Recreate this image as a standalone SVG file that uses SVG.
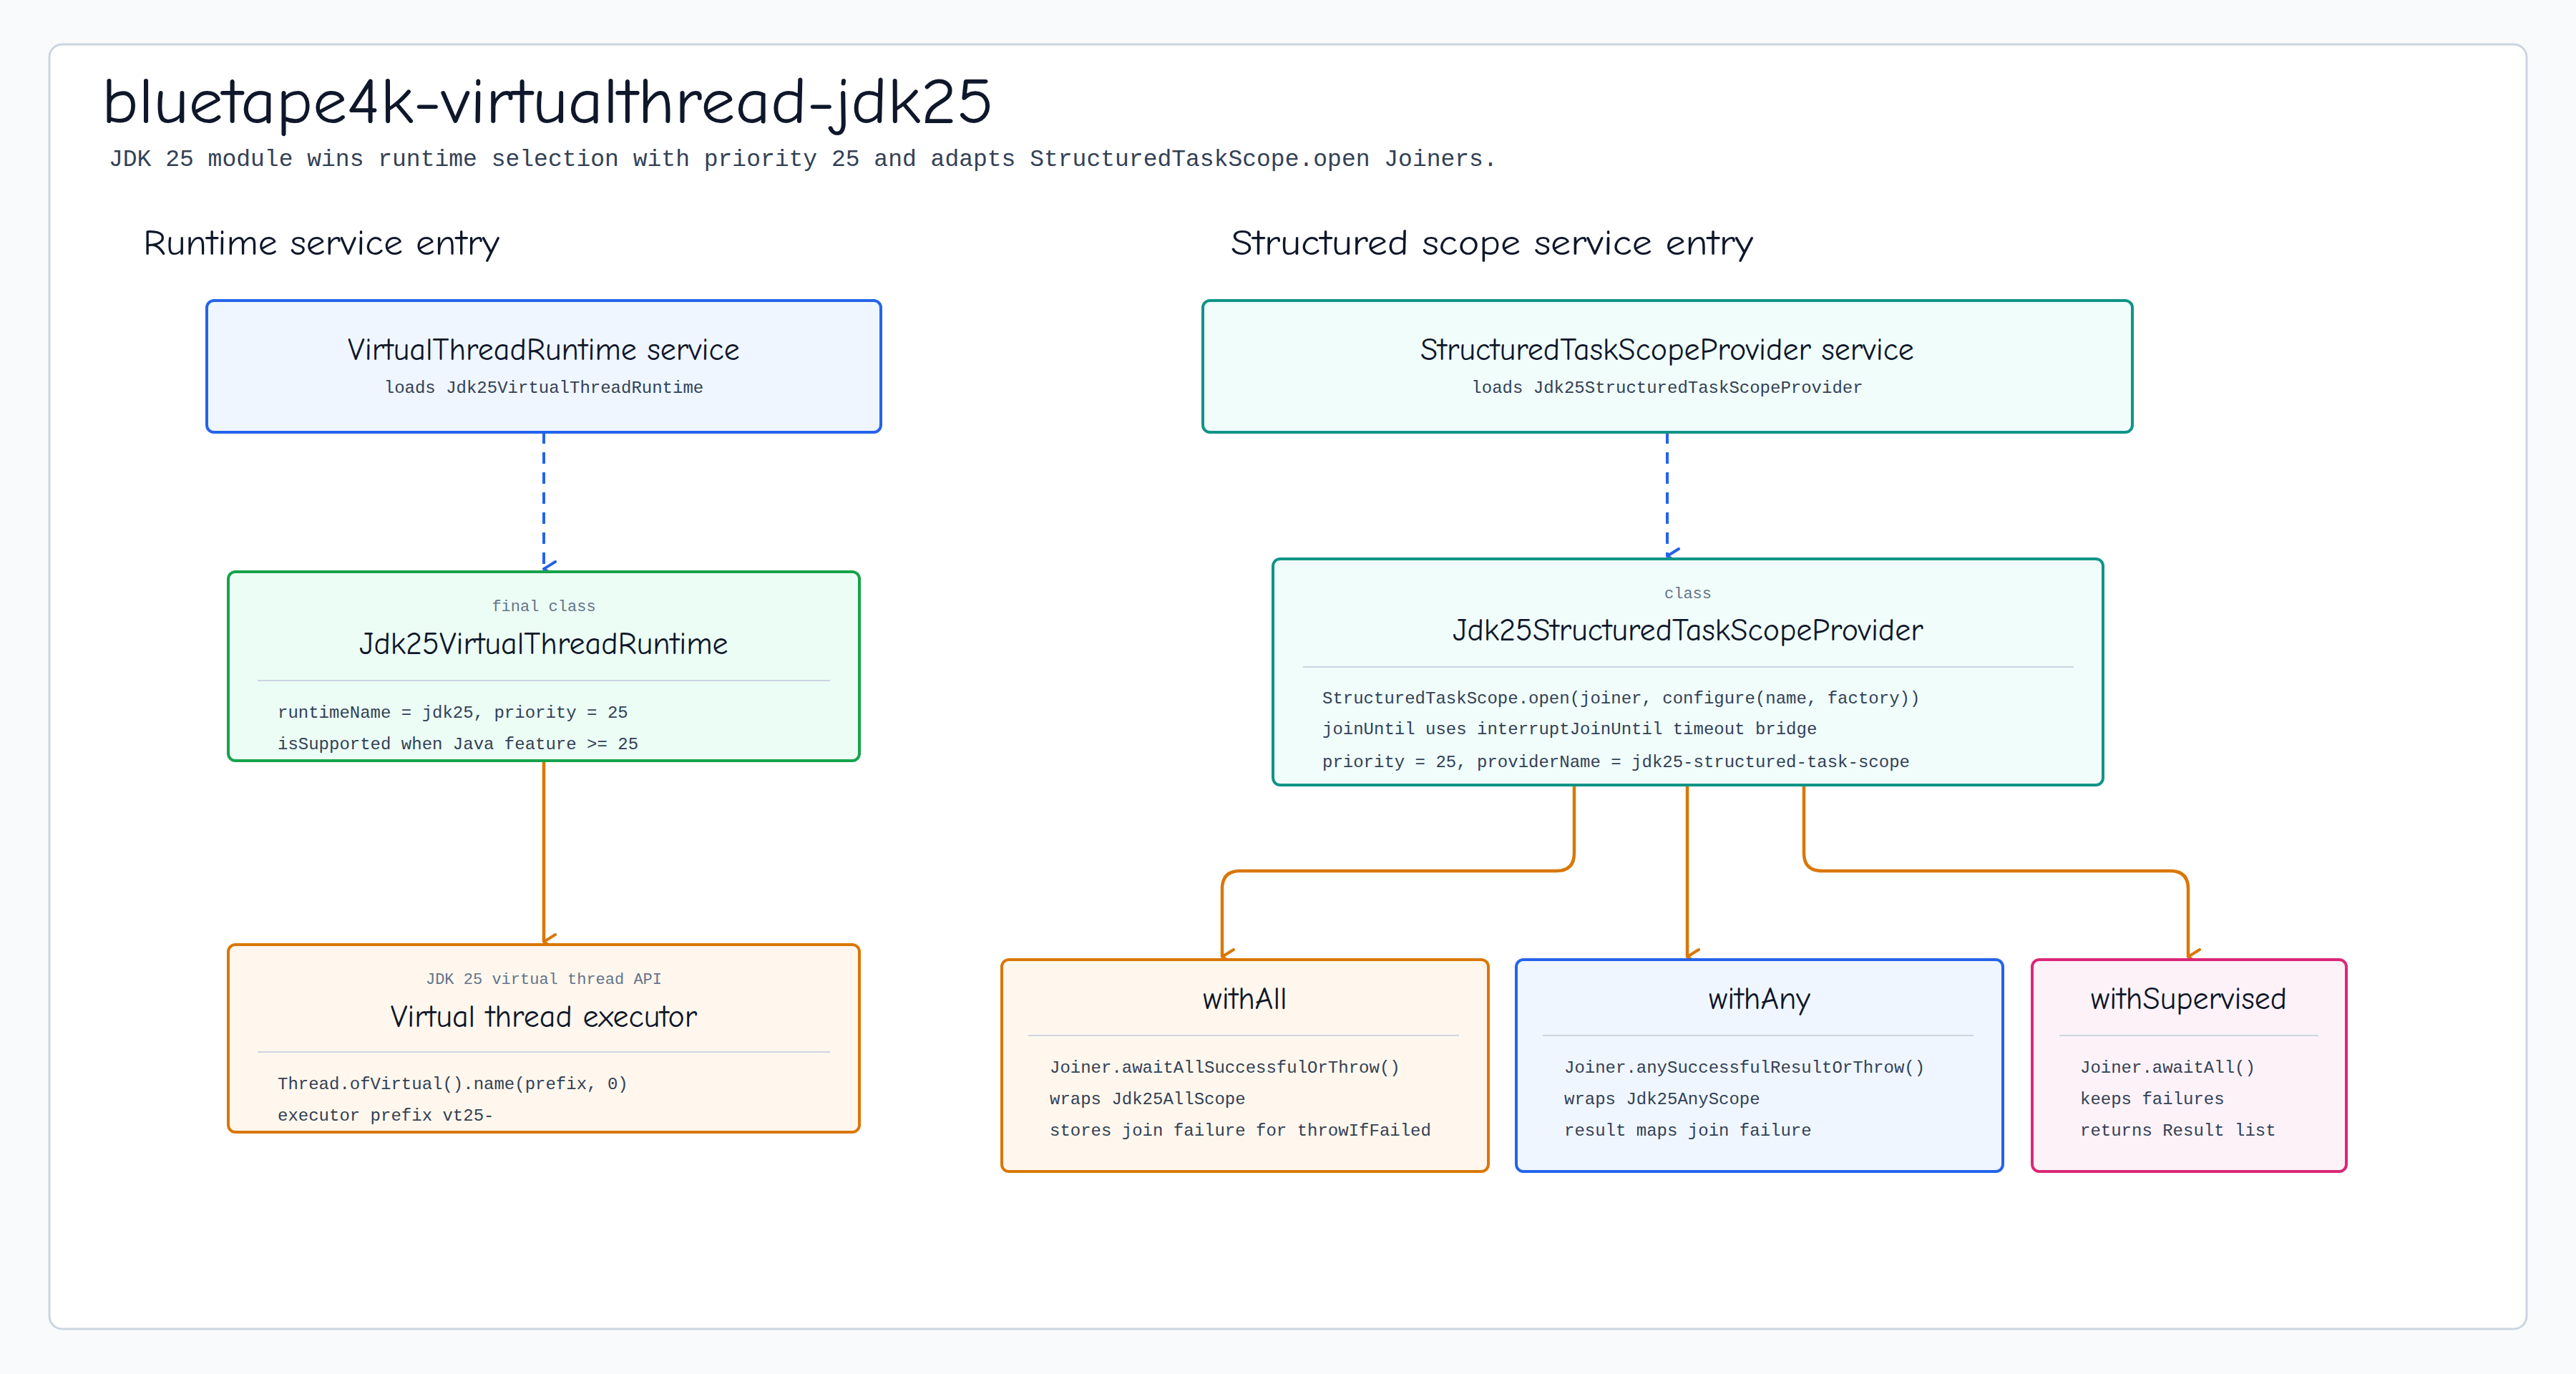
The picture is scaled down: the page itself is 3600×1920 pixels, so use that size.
<svg xmlns="http://www.w3.org/2000/svg" width="3600" height="1920" viewBox="0 0 3600 1920">
<defs>
<marker id="ab" markerWidth="24" markerHeight="24" refX="12" refY="20" orient="auto-start-reverse" markerUnits="userSpaceOnUse" viewBox="0 0 24 24"><path d="M2,4 L12,20 L22,4" fill="none" stroke="#2563eb" stroke-width="4" stroke-linecap="round" stroke-linejoin="round"/></marker>
<marker id="ao" markerWidth="24" markerHeight="24" refX="12" refY="20" orient="auto-start-reverse" markerUnits="userSpaceOnUse" viewBox="0 0 24 24"><path d="M2,4 L12,20 L22,4" fill="none" stroke="#d97706" stroke-width="4" stroke-linecap="round" stroke-linejoin="round"/></marker>
</defs>
<style>
.hand{font-family:"Comic Neue","Lato","Liberation Sans",sans-serif;fill:#0f172a}
.mono{font-family:"Liberation Mono","DejaVu Sans Mono",monospace;fill:#334155}
.lbl{font-family:"Liberation Mono","DejaVu Sans Mono",monospace;fill:#64748b;font-size:22px}
.ttl{font-size:44px;text-anchor:middle}
.ln{font-size:24px}
.div{stroke:#cbd5e1;stroke-width:2}
.dash{fill:none;stroke:#2563eb;stroke-width:4;stroke-dasharray:16 12}
.sol{fill:none;stroke:#d97706;stroke-width:4.5}
</style>
<rect width="3600" height="1920" fill="#f8fafc"/>
<rect x="69" y="62" width="3462" height="1795" rx="18" fill="#ffffff" stroke="#cbd5e1" stroke-width="3"/>
<text class="hand" x="142" y="172" font-size="90" textLength="1247" lengthAdjust="spacingAndGlyphs">bluetape4k-virtualthread-jdk25</text>
<text class="mono" x="152" y="232" font-size="33">JDK 25 module wins runtime selection with priority 25 and adapts StructuredTaskScope.open Joiners.</text>
<text class="hand" x="200" y="356" font-size="50" fill="#1e293b" textLength="498" lengthAdjust="spacingAndGlyphs">Runtime service entry</text>
<text class="hand" x="1720" y="356" font-size="50" fill="#1e293b" textLength="730" lengthAdjust="spacingAndGlyphs">Structured scope service entry</text>

<g id="connectors">
<path class="dash" d="M760,604 V795" marker-end="url(#ab)"/>
<path class="dash" d="M2330,604 V777" marker-end="url(#ab)"/>
<path class="sol" d="M760,1063 V1316" marker-end="url(#ao)"/>
<path class="sol" d="M2200,1097 V1192 Q2200,1217 2175,1217 H1733 Q1708,1217 1708,1242 V1337" marker-end="url(#ao)"/>
<path class="sol" d="M2358,1097 V1337" marker-end="url(#ao)"/>
<path class="sol" d="M2521,1097 V1192 Q2521,1217 2546,1217 H3033 Q3058,1217 3058,1242 V1337" marker-end="url(#ao)"/>
</g>

<g id="node-vtr-service">
<rect x="289" y="420" width="942" height="184" rx="10" fill="#eff6ff" stroke="#2563eb" stroke-width="4"/>
<text class="hand ttl" x="760" y="503">VirtualThreadRuntime service</text>
<text class="mono ln" x="760" y="549" text-anchor="middle">loads Jdk25VirtualThreadRuntime</text>
</g>
<g id="node-jdk25-vtr">
<rect x="319" y="799" width="882" height="264" rx="10" fill="#ecfdf5" stroke="#16a34a" stroke-width="4"/>
<text class="lbl" x="760" y="854" text-anchor="middle">final class</text>
<text class="hand ttl" x="760" y="914">Jdk25VirtualThreadRuntime</text>
<line class="div" x1="360" y1="951" x2="1160" y2="951"/>
<text class="mono ln" x="388" y="1003">runtimeName = jdk25, priority = 25</text>
<text class="mono ln" x="388" y="1047">isSupported when Java feature &gt;= 25</text>
</g>
<g id="node-executor">
<rect x="319" y="1320" width="882" height="262" rx="10" fill="#fff7ed" stroke="#d97706" stroke-width="4"/>
<text class="lbl" x="760" y="1375" text-anchor="middle">JDK 25 virtual thread API</text>
<text class="hand ttl" x="760" y="1435">Virtual thread executor</text>
<line class="div" x1="360" y1="1470" x2="1160" y2="1470"/>
<text class="mono ln" x="388" y="1522">Thread.ofVirtual().name(prefix, 0)</text>
<text class="mono ln" x="388" y="1566">executor prefix vt25-</text>
</g>
<g id="node-sts-service">
<rect x="1681" y="420" width="1299" height="184" rx="10" fill="#f0fdfa" stroke="#0f9488" stroke-width="4"/>
<text class="hand ttl" x="2330" y="503">StructuredTaskScopeProvider service</text>
<text class="mono ln" x="2330" y="549" text-anchor="middle">loads Jdk25StructuredTaskScopeProvider</text>
</g>
<g id="node-jdk25-sts">
<rect x="1779" y="781" width="1160" height="316" rx="10" fill="#f0fdfa" stroke="#0f9488" stroke-width="4"/>
<text class="lbl" x="2359" y="836" text-anchor="middle">class</text>
<text class="hand ttl" x="2359" y="895">Jdk25StructuredTaskScopeProvider</text>
<line class="div" x1="1821" y1="932" x2="2898" y2="932"/>
<text class="mono ln" x="1848" y="983">StructuredTaskScope.open(joiner, configure(name, factory))</text>
<text class="mono ln" x="1848" y="1026">joinUntil uses interruptJoinUntil timeout bridge</text>
<text class="mono ln" x="1848" y="1072">priority = 25, providerName = jdk25-structured-task-scope</text>
</g>
<g id="node-withall">
<rect x="1400" y="1341" width="680" height="296" rx="10" fill="#fff7ed" stroke="#d97706" stroke-width="4"/>
<text class="hand ttl" x="1740" y="1410">withAll</text>
<line class="div" x1="1437" y1="1447" x2="2039" y2="1447"/>
<text class="mono ln" x="1467" y="1499">Joiner.awaitAllSuccessfulOrThrow()</text>
<text class="mono ln" x="1467" y="1543">wraps Jdk25AllScope</text>
<text class="mono ln" x="1467" y="1587">stores join failure for throwIfFailed</text>
</g>
<g id="node-withany">
<rect x="2119" y="1341" width="680" height="296" rx="10" fill="#eff6ff" stroke="#2563eb" stroke-width="4"/>
<text class="hand ttl" x="2459" y="1410">withAny</text>
<line class="div" x1="2156" y1="1447" x2="2758" y2="1447"/>
<text class="mono ln" x="2186" y="1499">Joiner.anySuccessfulResultOrThrow()</text>
<text class="mono ln" x="2186" y="1543">wraps Jdk25AnyScope</text>
<text class="mono ln" x="2186" y="1587">result maps join failure</text>
</g>
<g id="node-withsupervised">
<rect x="2840" y="1341" width="439" height="296" rx="10" fill="#fdf2f8" stroke="#db2777" stroke-width="4"/>
<text class="hand ttl" x="3059" y="1410">withSupervised</text>
<line class="div" x1="2878" y1="1447" x2="3240" y2="1447"/>
<text class="mono ln" x="2907" y="1499">Joiner.awaitAll()</text>
<text class="mono ln" x="2907" y="1543">keeps failures</text>
<text class="mono ln" x="2907" y="1587">returns Result list</text>
</g>
</svg>
